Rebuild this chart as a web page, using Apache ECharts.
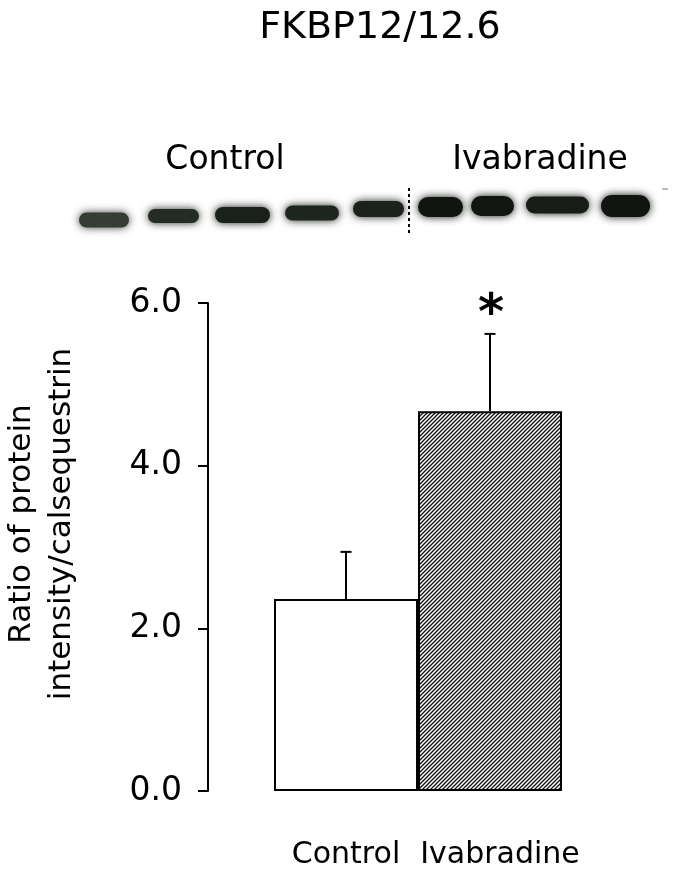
<!DOCTYPE html>
<html>
<head>
<meta charset="utf-8">
<script src="https://cdn.jsdelivr.net/npm/echarts@6/dist/echarts.min.js"></script>
<style>
  html, body { margin: 0; padding: 0; background: #fff; }
  #chart { width: 674px; height: 878px; }
</style>
</head>
<body>
<div id="chart"></div>
<script>
// data
const categories = ['Control', 'Ivabradine']
const means = [2.36, 4.67]
const upperErr = [2.94, 5.62]
const sigMarks = ['', '*']
const yTicks = { min: 0, max: 6, interval: 2 }

const FONT = '"DejaVu Sans", sans-serif'

// western blot bands above the chart (picture decoration, not data)
const blotBands = [
  { x1: 77, x2: 131, cy: 220, h: 15, c: '#353d35' },
  { x1: 146, x2: 201, cy: 216, h: 14, c: '#252c25' },
  { x1: 213, x2: 272, cy: 215, h: 16, c: '#1a201a' },
  { x1: 283, x2: 341, cy: 213, h: 15, c: '#1e241e' },
  { x1: 351, x2: 406, cy: 209, h: 16, c: '#1b211b' },
  { x1: 416, x2: 465, cy: 207, h: 20, c: '#101510' },
  { x1: 469, x2: 516, cy: 206, h: 20, c: '#111611' },
  { x1: 524, x2: 591, cy: 205, h: 17, c: '#181d18' },
  { x1: 599, x2: 652, cy: 206, h: 22, c: '#101510' }
]

// hatch pattern for the treated bar
function hatchPattern() {
  const c = document.createElement('canvas')
  c.width = 4
  c.height = 4
  const g = c.getContext('2d')
  g.fillStyle = '#fff'
  g.fillRect(0, 0, 4, 4)
  g.strokeStyle = '#111'
  g.lineWidth = 1.3
  g.beginPath()
  g.moveTo(0, 4); g.lineTo(4, 0)
  g.moveTo(-1, 1); g.lineTo(1, -1)
  g.moveTo(3, 5); g.lineTo(5, 3)
  g.stroke()
  return c
}

const chart = echarts.init(document.getElementById('chart'))

const graphics = [
  {
    type: 'text', x: 380, y: 28,
    style: { text: 'FKBP12/12.6', font: '38px ' + FONT, fill: '#000', align: 'center', verticalAlign: 'middle' }
  },
  {
    type: 'text', x: 225, y: 160,
    style: { text: 'Control', font: '33px ' + FONT, fill: '#000', align: 'center', verticalAlign: 'middle' }
  },
  {
    type: 'text', x: 540, y: 160,
    style: { text: 'Ivabradine', font: '33px ' + FONT, fill: '#000', align: 'center', verticalAlign: 'middle' }
  },
  {
    type: 'text', x: 42, y: 524, rotation: Math.PI / 2,
    style: {
      text: 'Ratio of protein\nintensity/calsequestrin', font: '31px ' + FONT, fill: '#000',
      align: 'center', verticalAlign: 'middle', lineHeight: 40
    }
  },
  {
    type: 'line',
    shape: { x1: 409, y1: 188, x2: 409, y2: 234 },
    style: { stroke: '#000', lineWidth: 2, lineDash: [3, 3] }
  },
  {
    type: 'line',
    shape: { x1: 662, y1: 189, x2: 668, y2: 189 },
    style: { stroke: '#777', lineWidth: 1 }
  }
]
blotBands.forEach(b => {
  graphics.push({
    type: 'rect',
    shape: { x: b.x1 + 2, y: b.cy - b.h / 2, width: b.x2 - b.x1 - 4, height: b.h, r: b.h / 2 },
    style: { fill: b.c, shadowBlur: 8, shadowColor: b.c }
  })
})

const option = {
  backgroundColor: '#fff',
  animation: false,
  textStyle: { fontFamily: FONT },
  graphic: graphics,
  grid: { left: 274, right: 112, top: 303, bottom: 87, containLabel: false },
  xAxis: {
    type: 'category',
    data: [
      { value: categories[0] },
      { value: categories[1], textStyle: { padding: [0, 0, 0, 20] } }
    ],
    axisLine: { show: false },
    axisTick: { show: false },
    axisLabel: { color: '#000', fontSize: 30, margin: 49, interval: 0, hideOverlap: false }
  },
  yAxis: {
    type: 'value',
    min: yTicks.min,
    max: yTicks.max,
    interval: yTicks.interval,
    offset: 66,
    axisLine: { show: true, lineStyle: { color: '#000', width: 2 } },
    axisTick: { show: true, length: 10, lineStyle: { color: '#000', width: 2 } },
    splitLine: { show: false },
    axisLabel: { color: '#000', fontSize: 33, margin: 26, formatter: v => v.toFixed(1) }
  },
  series: [
    {
      type: 'bar',
      data: means.map((v, i) => ({
        value: v,
        itemStyle: i === 0
          ? { color: '#fff' }
          : { color: { image: hatchPattern(), repeat: 'repeat' } }
      })),
      barWidth: '100%',
      barGap: 0,
      itemStyle: { borderColor: '#000', borderWidth: 2 }
    },
    {
      type: 'custom',
      z: 3,
      data: categories.map((c, i) => [i, upperErr[i], means[i]]),
      renderItem: (params, api) => {
        const i = params.dataIndex
        const pTop = api.coord([api.value(0), api.value(1)])
        const pBase = api.coord([api.value(0), api.value(2)])
        const half = 5.5
        const kids = [
          { type: 'line', shape: { x1: pTop[0], y1: pTop[1], x2: pBase[0], y2: pBase[1] }, style: { stroke: '#000', lineWidth: 2 } },
          { type: 'line', shape: { x1: pTop[0] - half, y1: pTop[1], x2: pTop[0] + half, y2: pTop[1] }, style: { stroke: '#000', lineWidth: 2 } }
        ]
        if (sigMarks[i]) {
          kids.push({
            type: 'text',
            x: pTop[0] + 1, y: pTop[1] - 18,
            style: { text: sigMarks[i], font: 'bold 50px ' + FONT, fill: '#000', align: 'center', verticalAlign: 'middle' }
          })
        }
        return { type: 'group', children: kids }
      }
    }
  ]
}

chart.setOption(option)
</script>
</body>
</html>
